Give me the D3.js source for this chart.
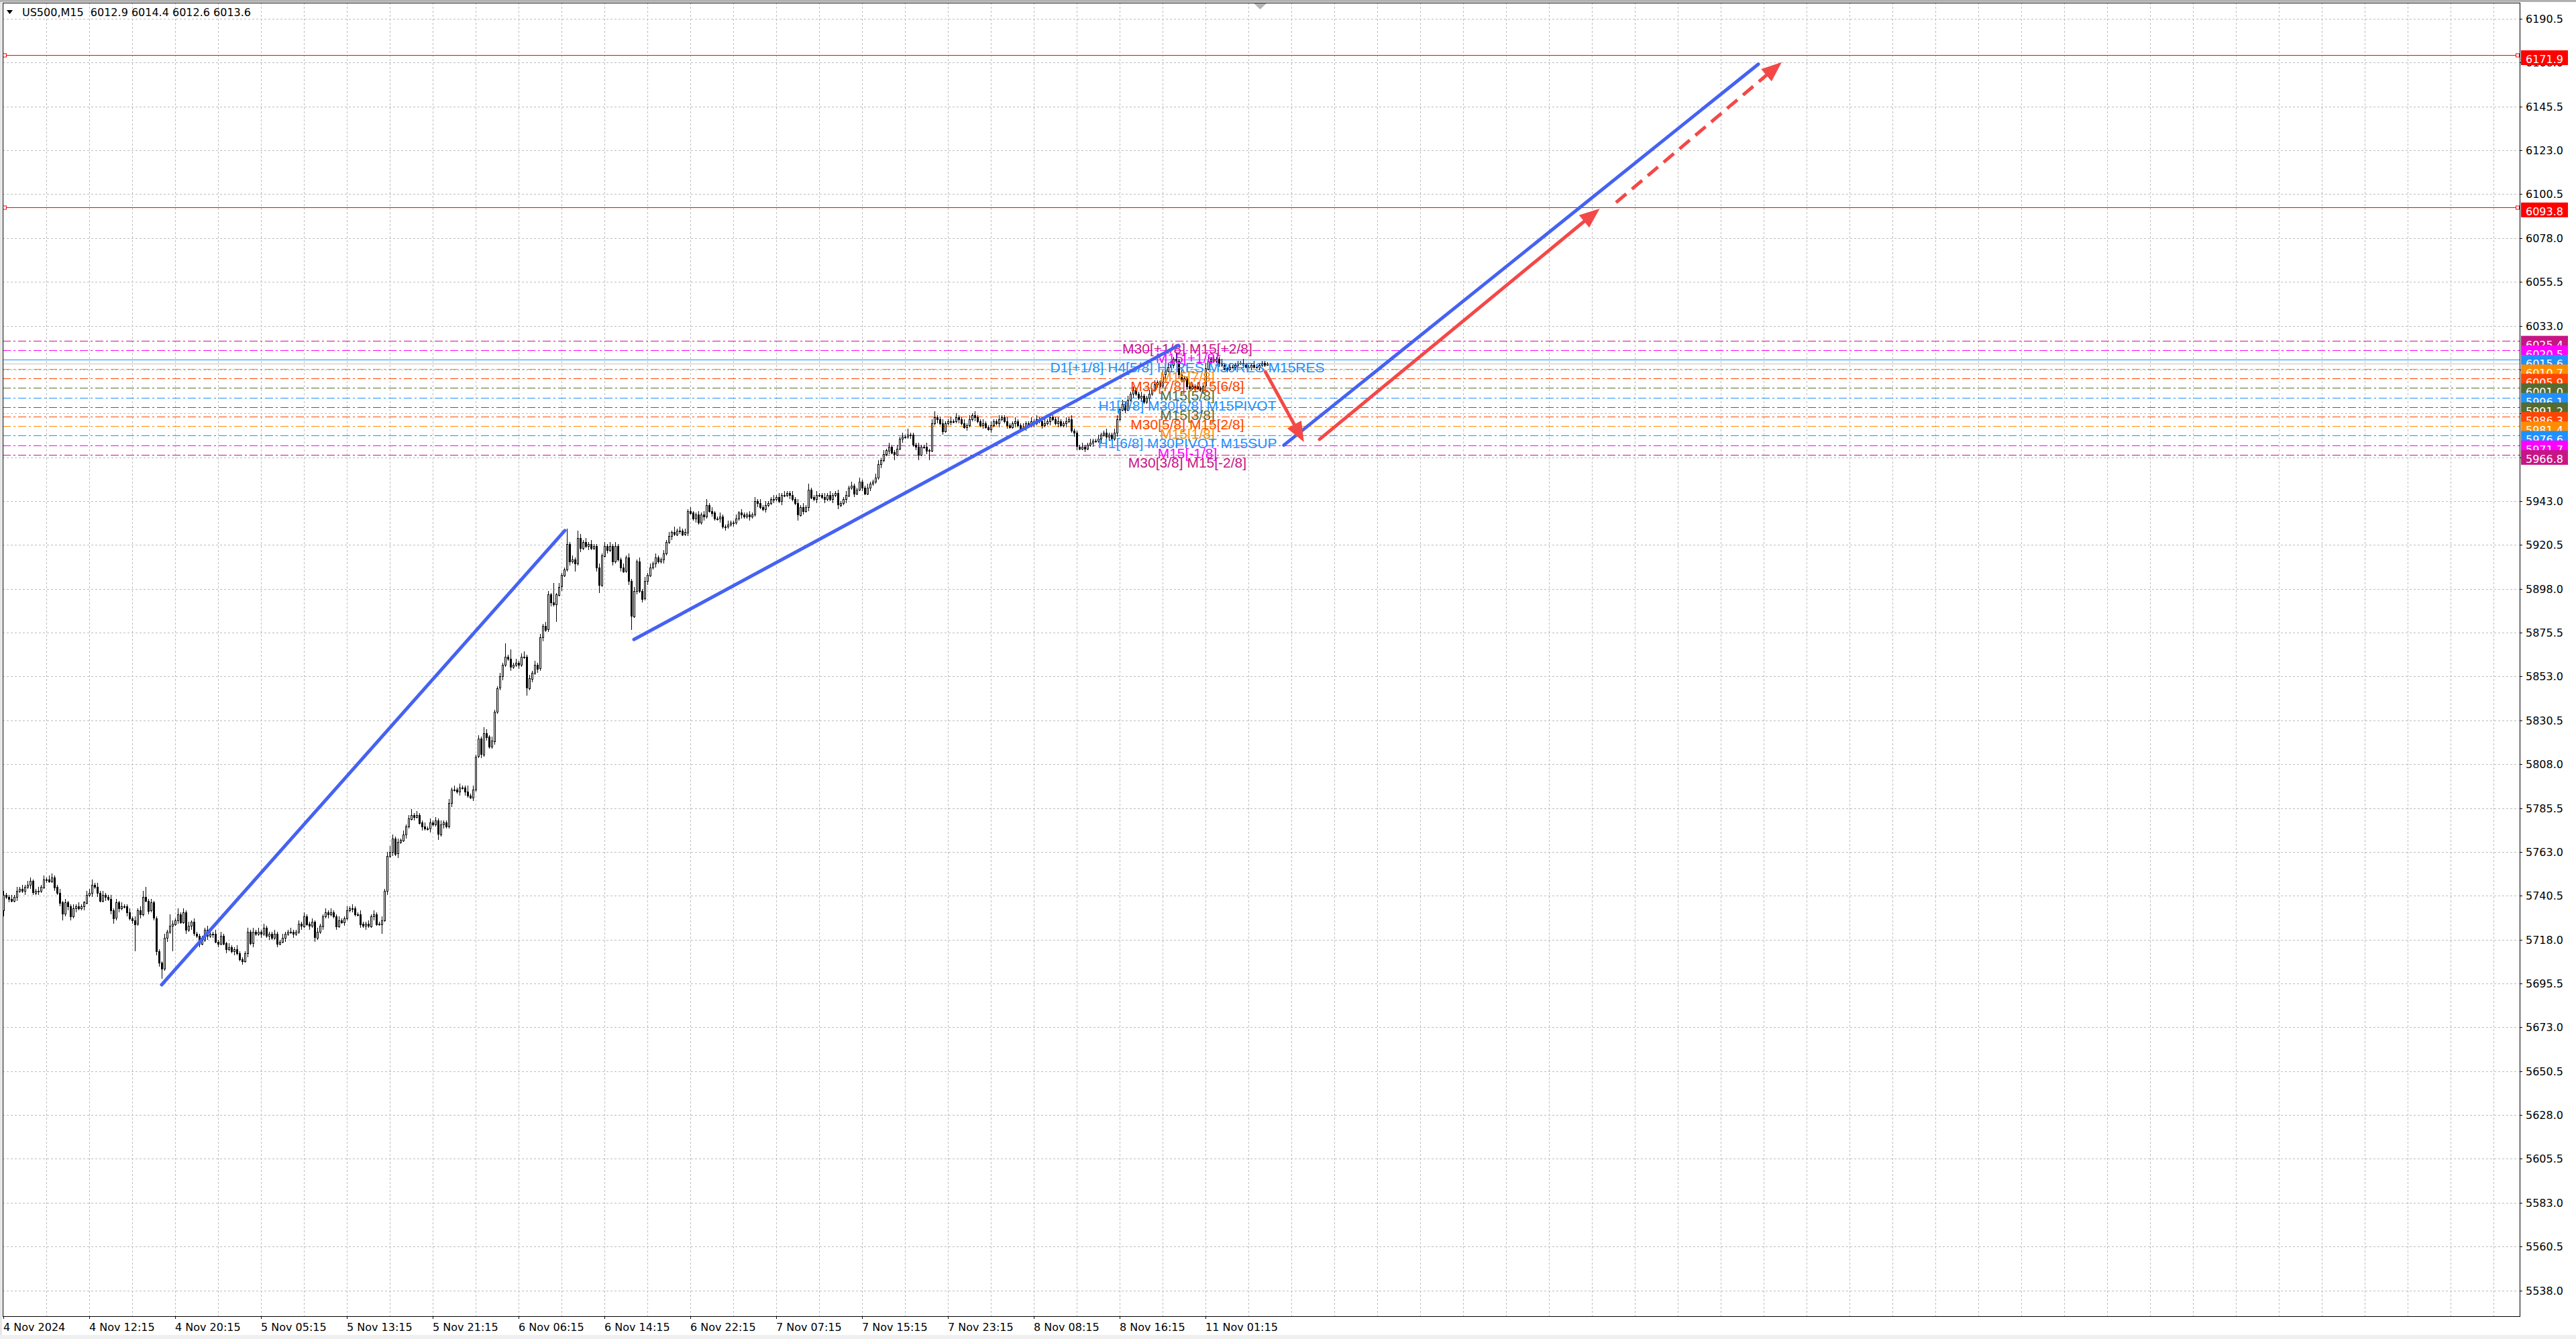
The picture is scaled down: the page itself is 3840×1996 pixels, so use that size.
<!DOCTYPE html>
<html>
<head>
<meta charset="utf-8">
<script src="https://cdn.jsdelivr.net/npm/d3@7"></script>
<style>
body{margin:0;background:#fff}
svg{display:block}
</style>
</head>
<body>
<div id="chart"></div>
<script>
//数据: US500 M15, 每根K线的收盘价
var symbolTitle = "US500,M15"
var lastOHLC = [6012.9, 6014.4, 6012.6, 6013.6]
var firstOpen = 5733
var closes = [
5741,5740,5739,5738,5740,5743,5744,5743,5745,5746,5748,5742,5743,5743,5745,5749,5749,5748,5750,5745,
5742,5737,5731,5737,5735,5730,5734,5735,5734,5735,5737,5741,5742,5746,5745,5742,5738,5741,5740,5739,
5733,5729,5737,5734,5735,5735,5732,5729,5728,5726,5733,5731,5740,5738,5733,5737,5729,5712,5706,5703,
5719,5722,5725,5726,5728,5731,5727,5732,5723,5725,5727,5721,5720,5716,5718,5723,5720,5721,5721,5717,
5716,5720,5716,5713,5714,5712,5713,5711,5708,5707,5711,5722,5716,5722,5721,5722,5721,5724,5720,5721,
5719,5721,5716,5717,5719,5721,5722,5722,5721,5722,5726,5725,5730,5726,5725,5727,5719,5722,5725,5730,
5732,5731,5732,5730,5725,5728,5727,5729,5733,5734,5734,5731,5731,5726,5725,5726,5725,5730,5731,5726,
5726,5728,5743,5761,5763,5770,5762,5768,5769,5772,5776,5780,5782,5781,5782,5778,5776,5775,5775,5778,
5777,5779,5772,5777,5778,5776,5788,5795,5795,5794,5796,5796,5794,5792,5791,5795,5812,5821,5813,5824,
5822,5817,5820,5835,5847,5853,5859,5863,5862,5858,5859,5860,5859,5863,5863,5847,5852,5855,5859,5857,
5873,5879,5877,5895,5891,5890,5895,5899,5905,5908,5921,5912,5913,5911,5924,5919,5922,5920,5921,5919,
5920,5909,5900,5915,5920,5918,5920,5912,5920,5913,5909,5907,5914,5902,5884,5897,5912,5897,5893,5902,
5905,5909,5911,5914,5912,5913,5916,5922,5925,5927,5926,5928,5928,5926,5927,5938,5937,5934,5936,5932,
5936,5935,5941,5938,5937,5934,5934,5935,5930,5930,5931,5932,5932,5934,5937,5936,5935,5936,5935,5936,
5943,5942,5940,5939,5941,5942,5944,5944,5945,5943,5946,5946,5947,5946,5944,5942,5936,5940,5938,5940,
5949,5945,5944,5946,5946,5945,5944,5946,5944,5946,5947,5941,5942,5944,5946,5950,5951,5947,5949,5953,
5950,5947,5950,5952,5953,5955,5962,5964,5967,5969,5971,5968,5967,5970,5975,5976,5976,5977,5977,5972,
5971,5967,5971,5971,5969,5969,5983,5986,5985,5983,5979,5983,5984,5984,5984,5986,5985,5983,5981,5982,
5985,5987,5986,5984,5982,5983,5981,5980,5982,5984,5983,5985,5986,5984,5982,5981,5983,5984,5982,5980,
5981,5983,5982,5984,5983,5985,5984,5982,5983,5984,5986,5985,5983,5984,5982,5983,5984,5985,5979,5978,
5971,5970,5971,5970,5972,5973,5974,5974,5975,5977,5978,5976,5977,5975,5978,5985,5990,5993,5990,5995,
5998,6000,5998,5996,5997,5994,5996,5998,6000,6003,6004,6002,6008,6010,6012,6013,6016,6015,6008,6005,
6006,6002,6001,6002,6002,6001,6000,6002,6011,6015,6016,6015,6016,6014,6013,6011,6011,6012,6012,6013,
6014,6014,6013,6012,6012,6013,6012,6012,6013,6014,6012.9,6013.6
]
//上影线长度
var wickUp = [
2,1,1,2,1,2,1,2,1,2,2,1,1,2,1,2,1,2,2,1,
1,2,1,2,1,1,2,1,2,1,1,2,2,3,1,2,1,2,1,1,
2,1,2,1,2,1,1,2,1,2,1,2,3,5,1,2,1,1,1,1,
2,1,6,2,1,3,1,2,1,2,1,2,1,1,2,1,2,1,1,2,
1,2,1,1,2,1,1,2,1,1,1,2,1,2,1,2,1,2,1,1,
1,2,1,1,2,1,1,2,1,1,2,1,2,1,1,2,1,2,1,1,
2,1,2,1,1,2,1,1,2,1,2,1,1,2,1,1,2,1,2,1,
1,2,1,2,3,2,1,2,1,2,1,2,3,1,2,1,1,2,1,2,
1,2,1,2,1,1,2,1,2,1,2,1,1,3,1,2,1,2,1,3,
2,1,2,1,1,2,1,7,1,5,1,2,1,2,3,1,2,1,2,1,
2,1,2,2,1,10,1,2,1,1,8,1,2,1,4,2,1,2,1,2,
1,1,2,1,2,1,2,1,2,1,1,2,1,2,1,2,1,2,1,2,
1,2,1,2,1,1,2,1,2,1,3,1,2,1,2,1,2,1,1,2,
1,2,3,1,2,1,1,2,1,1,2,1,1,2,1,2,1,1,2,1,
2,1,2,1,2,1,1,2,1,2,1,2,1,1,2,1,2,1,2,1,
3,1,1,2,1,1,2,1,2,1,1,2,1,1,2,1,2,1,1,2,
1,1,2,1,1,2,2,1,2,1,2,1,1,2,1,2,1,3,1,1,
1,2,1,1,2,1,2,3,1,1,2,1,1,2,1,2,1,1,2,1,
2,1,2,1,1,2,1,1,2,1,1,2,1,1,2,1,1,2,1,1,
2,1,1,2,1,2,1,1,2,1,2,1,1,2,1,1,2,1,2,1,
1,1,2,1,1,2,1,1,2,1,1,2,1,1,2,2,1,2,1,2,
1,2,1,1,2,1,1,2,1,2,1,1,2,1,2,2,1,3,1,2,
1,1,2,1,1,2,1,1,3,2,1,2,1,1,2,1,1,2,1,1,
1,1,2,1,1,1,2,1,1,1,1,0.8
]
//下影线长度
var wickDown = [
3,1,2,1,1,2,1,1,2,1,2,1,1,2,1,1,2,1,1,2,
1,2,3,1,2,2,1,2,1,1,2,1,1,2,1,2,1,1,2,1,
2,3,1,2,1,1,2,1,2,14,1,2,1,1,2,1,1,2,2,5,
1,2,1,13,1,2,1,1,2,1,2,1,1,2,1,1,2,1,2,1,
2,1,1,2,1,1,2,1,1,2,1,2,1,2,1,1,2,1,1,2,
1,1,2,1,1,2,1,1,2,1,1,2,1,1,2,1,2,1,1,2,
1,2,1,1,2,1,1,2,1,1,2,1,1,2,1,2,1,1,2,1,
1,5,1,2,1,2,1,2,1,1,2,1,1,2,1,1,2,1,1,2,
1,1,3,1,2,1,1,2,1,1,2,1,2,1,1,2,1,1,2,1,
2,1,1,2,1,1,2,1,1,2,1,1,2,1,1,4,1,2,1,2,
1,2,1,1,2,1,9,1,2,1,1,2,1,4,1,2,1,1,2,1,
1,2,4,1,1,2,1,2,1,1,2,1,1,2,7,1,2,1,2,1,
2,1,1,2,1,1,2,1,1,2,1,1,2,1,1,2,1,1,2,1,
1,2,1,1,2,1,1,2,1,2,1,1,2,1,1,2,1,1,2,1,
1,2,1,1,2,1,1,2,1,1,2,1,1,2,1,1,3,1,2,1,
2,1,1,2,1,1,2,1,1,2,1,2,1,1,2,1,1,2,1,1,
2,1,1,2,1,1,1,2,1,1,2,1,3,1,1,2,1,1,2,1,
2,3,1,1,2,5,1,1,2,1,2,1,1,2,1,1,2,1,1,2,
1,1,2,1,1,2,1,1,2,1,1,2,1,1,2,1,1,2,1,1,
1,2,1,1,2,1,1,2,1,1,2,1,1,2,1,1,2,1,1,2,
2,1,1,2,1,1,2,1,1,2,1,1,2,1,1,2,1,1,2,1,
1,2,1,1,2,1,1,2,1,1,2,1,1,2,1,1,2,1,2,1,
1,2,1,1,2,1,1,2,1,1,2,1,1,2,1,1,2,1,1,2,
1,1,2,1,1,2,1,1,2,1,1,0.3
]

//时间轴标签, 每32根K线一个
var timeLabels = ["4 Nov 2024","4 Nov 12:15","4 Nov 20:15","5 Nov 05:15","5 Nov 13:15","5 Nov 21:15",
    "6 Nov 06:15","6 Nov 14:15","6 Nov 22:15","7 Nov 07:15","7 Nov 15:15","7 Nov 23:15",
    "8 Nov 08:15","8 Nov 16:15","11 Nov 01:15"]
var timeStep = 32
var gridStep = 16

//价格轴刻度
var priceTicks = [6190.5,6168.0,6145.5,6123.0,6100.5,6078.0,6055.5,6033.0,6010.5,5988.0,5965.5,
    5943.0,5920.5,5898.0,5875.5,5853.0,5830.5,5808.0,5785.5,5763.0,5740.5,5718.0,5695.5,
    5673.0,5650.5,5628.0,5605.5,5583.0,5560.5,5538.0]

//Murrey 水平线
var levelPrices = [6025.4,6020.5,6015.6,6010.7,6005.9,6001.0,5996.1,5991.2,5986.3,5981.4,5976.6,5971.7,5966.8]
var levelTexts = ["M30[+1/8] M15[+2/8]","M15[+1/8]","D1[+1/8] H4[5/8] H1RES M30RES M15RES","M15[7/8]",
    "M30[7/8] M15[6/8]","M15[5/8]","H1[7/8] M30[6/8] M15PIVOT","M15[3/8]","M30[5/8] M15[2/8]",
    "M15[1/8]","H1[6/8] M30PIVOT M15SUP","M15[-1/8]","M30[3/8] M15[-2/8]"]
var levelTextBar = 441.25
var levelColors = ["#c71585","#ff00ff","#1e90ff","#ff8c00","#ff4500","#556b2f","#1e90ff",
    "#556b2f","#ff4500","#ff8c00","#1e90ff","#ff00ff","#c71585"]
var levelSolid = [false,false,true,false,false,false,false,false,false,false,false,false,false]

//红色水平线
var redLevels = [6171.9, 6093.8]

//趋势线 [bar1, price1, bar2, price2]
var blueLines = [
    [59, 5694.8, 209.25, 5927.9],
    [235, 5872.0, 437.9, 6022.9],
    [477.2, 5971.7, 654, 6167.2]
]
//箭头 [bar1, price1, bar2, price2]
var redArrows = [
    [470.3, 6009.4, 484.7, 5973.3],
    [490.5, 5974.7, 594.9, 6093.1]
]
var redDashArrows = [
    [601, 6096.2, 662.75, 6168.2]
]

//设置svg
var width = 3840
var height = 1996
var pLeft = 4, pTop = 4, pRight = 3756, pBottom = 1962

var svg = d3.select("#chart").append("svg")
    .attr("width", width)
    .attr("height", height)
    .style("font-family", "'DejaVu Sans', sans-serif")

var scaleX = d3.scaleLinear()//K线序号 -> 横坐标
    .domain([0, 100])
    .range([5, 405])
var scaleY = d3.scaleLinear()//价格 -> 纵坐标
    .domain([5538.0, 6190.5])
    .range([1923.5, 28])

//窗口边框
svg.append("rect").attr("x",0).attr("y",0).attr("width",width).attr("height",3).attr("fill","#b0b0b0")
svg.append("rect").attr("x",0).attr("y",3).attr("width",3).attr("height",height).attr("fill","#e6e6e6")
svg.append("rect").attr("x",0).attr("y",1990).attr("width",width).attr("height",6).attr("fill","#f0f0f0")

svg.append("defs").append("clipPath").attr("id","plot")
    .append("rect").attr("x",pLeft).attr("y",pTop).attr("width",pRight-pLeft).attr("height",pBottom-pTop)

var plot = svg.append("g").attr("clip-path","url(#plot)")

//网格
var grid = plot.append("g").attr("shape-rendering","crispEdges")
var gx = []
for (var k = 1; scaleX(k*gridStep) < pRight; k++) gx.push(k*gridStep)
grid.selectAll("line.v").data(gx).enter().append("line")
    .attr("x1", d => Math.round(scaleX(d))+0.5).attr("x2", d => Math.round(scaleX(d))+0.5)
    .attr("y1", pTop).attr("y2", pBottom)
    .attr("stroke","#bdbdbd").attr("stroke-dasharray","3,3")
grid.selectAll("line.h").data(priceTicks).enter().append("line")
    .attr("x1", pLeft).attr("x2", pRight)
    .attr("y1", d => Math.round(scaleY(d))+0.5).attr("y2", d => Math.round(scaleY(d))+0.5)
    .attr("stroke","#bdbdbd").attr("stroke-dasharray","3,3")

//水平线
plot.append("g").attr("shape-rendering","crispEdges")
    .selectAll("line").data(levelPrices).enter().append("line")
    .attr("x1", pLeft).attr("x2", pRight)
    .attr("y1", d => Math.round(scaleY(d))+0.5).attr("y2", d => Math.round(scaleY(d))+0.5)
    .attr("stroke", (d,i) => levelColors[i])
    .attr("stroke-dasharray", (d,i) => levelSolid[i] ? null : "12,4,3,4")

//当前价
plot.append("line")
    .attr("x1", pLeft).attr("x2", pRight)
    .attr("y1", Math.round(scaleY(lastOHLC[3]))+0.5).attr("y2", Math.round(scaleY(lastOHLC[3]))+0.5)
    .attr("stroke","#c0c0c0").attr("shape-rendering","crispEdges")

plot.selectAll("line.red").data(redLevels).enter().append("line")
    .attr("x1", pLeft).attr("x2", pRight)
    .attr("y1", d => Math.round(scaleY(d))+0.5).attr("y2", d => Math.round(scaleY(d))+0.5)
    .attr("stroke","#ff0000").attr("stroke-width",1).attr("shape-rendering","crispEdges")

//K线
var bars = closes.map(function(c, i){
    var o = i == 0 ? firstOpen : closes[i-1]
    return {i:i, o:o, c:c, h:Math.max(o,c)+wickUp[i], l:Math.min(o,c)-wickDown[i]}
})
var candles = plot.append("g").attr("shape-rendering","crispEdges")
    .selectAll("g").data(bars).enter().append("g")
candles.append("line")
    .attr("x1", d => Math.round(scaleX(d.i))+0.5).attr("x2", d => Math.round(scaleX(d.i))+0.5)
    .attr("y1", d => scaleY(d.h)).attr("y2", d => scaleY(d.l))
    .attr("stroke","#000")
candles.append("rect")
    .attr("x", d => Math.round(scaleX(d.i))-0.5)
    .attr("width", 2)
    .attr("y", d => Math.round(scaleY(Math.max(d.o,d.c)))+0.5)
    .attr("height", d => Math.max(1, Math.round(Math.abs(scaleY(d.o)-scaleY(d.c)))))
    .attr("fill", d => d.c >= d.o ? "#fff" : "#000")
    .attr("stroke","#000")

//水平线文字
plot.append("g")
    .selectAll("text").data(levelPrices).enter().append("text")
    .attr("x", scaleX(levelTextBar))
    .attr("y", d => scaleY(d)+19)
    .attr("text-anchor","middle")
    .style("font-family","'Liberation Sans', Arial, sans-serif")
    .style("font-size","21px")
    .attr("fill", (d,i) => levelColors[i])
    .text((d,i) => levelTexts[i])

//趋势线
plot.append("g").selectAll("line").data(blueLines).enter().append("line")
    .attr("x1", d => scaleX(d[0])).attr("y1", d => scaleY(d[1]))
    .attr("x2", d => scaleX(d[2])).attr("y2", d => scaleY(d[3]))
    .attr("stroke","#4562f2").attr("stroke-width",5).attr("stroke-linecap","round")

//箭头
function drawArrow(d, dashed){
    var x1 = scaleX(d[0]), y1 = scaleY(d[1]), x2 = scaleX(d[2]), y2 = scaleY(d[3])
    var len = Math.sqrt((x2-x1)*(x2-x1)+(y2-y1)*(y2-y1))
    var ux = (x2-x1)/len, uy = (y2-y1)/len
    var head = 30, half = 12
    plot.append("line")
        .attr("x1", x1).attr("y1", y1)
        .attr("x2", x2-ux*head*0.8).attr("y2", y2-uy*head*0.8)
        .attr("stroke","#f44848").attr("stroke-width",5)
        .attr("stroke-linecap", dashed ? "butt" : "round")
        .attr("stroke-dasharray", dashed ? "20,11" : null)
    var bx = x2-ux*head, by = y2-uy*head
    plot.append("path")
        .attr("d", "M"+x2+" "+y2+" L"+(bx-uy*half)+" "+(by+ux*half)+" L"+(bx+uy*half)+" "+(by-ux*half)+" Z")
        .attr("fill","#f44848")
}
redArrows.forEach(d => drawArrow(d, false))
redDashArrows.forEach(d => drawArrow(d, true))

//红线端点小方块
redLevels.forEach(function(p){
    [pLeft+3, pRight-3].forEach(function(px){
        svg.append("rect").attr("x", px-2.5).attr("y", Math.round(scaleY(p))-2)
            .attr("width",5).attr("height",5)
            .attr("fill","#fff").attr("stroke","#ff0000").attr("stroke-width",1)
    })
})

//图表移动标记
svg.append("path").attr("d","M1869 5 L1888 5 L1878.5 14 Z").attr("fill","#b4b4b4")

//边框
svg.append("rect").attr("x",pLeft+0.5).attr("y",pTop+0.5)
    .attr("width",pRight-pLeft).attr("height",pBottom-pTop)
    .attr("fill","none").attr("stroke","#000").attr("shape-rendering","crispEdges")

//价格轴
var yAxis = svg.append("g").style("font-size","16px")
yAxis.selectAll("line").data(priceTicks).enter().append("line")
    .attr("x1", pRight).attr("x2", pRight+4)
    .attr("y1", d => Math.round(scaleY(d))+0.5).attr("y2", d => Math.round(scaleY(d))+0.5)
    .attr("stroke","#000").attr("shape-rendering","crispEdges")
yAxis.selectAll("text").data(priceTicks).enter().append("text")
    .attr("x", pRight+9).attr("y", d => scaleY(d)+6)
    .attr("fill","#000")
    .text(d => d.toFixed(1))

//价格标签
var tags = svg.append("g").style("font-size","16px")
levelPrices.forEach(function(p, i){
    tags.append("rect").attr("x", pRight+2).attr("y", scaleY(p)-7)
        .attr("width",70).attr("height",22).attr("fill", levelColors[i])
    tags.append("text").attr("x", pRight+9).attr("y", scaleY(p)+12)
        .attr("fill","#fff").text(p.toFixed(1))
})
redLevels.forEach(function(p){
    tags.append("rect").attr("x", pRight+2).attr("y", scaleY(p)-7)
        .attr("width",70).attr("height",22).attr("fill","#ff0000")
    tags.append("text").attr("x", pRight+9).attr("y", scaleY(p)+12)
        .attr("fill","#fff").text(p.toFixed(1))
})

//时间轴
var xAxis = svg.append("g").style("font-size","16px")
xAxis.selectAll("line").data(timeLabels).enter().append("line")
    .attr("x1", (d,i) => Math.round(scaleX(i*timeStep))+0.5).attr("x2", (d,i) => Math.round(scaleX(i*timeStep))+0.5)
    .attr("y1", pBottom).attr("y2", pBottom+4)
    .attr("stroke","#000").attr("shape-rendering","crispEdges")
xAxis.selectAll("text").data(timeLabels).enter().append("text")
    .attr("x", (d,i) => scaleX(i*timeStep))
    .attr("y", 1984)
    .attr("fill","#000")
    .text(d => d)

//标题
svg.append("path").attr("d","M10 15 L19 15 L14.5 21 Z").attr("fill","#000")
svg.append("text").attr("x",33).attr("y",24)
    .style("font-size","16px").attr("fill","#000")
    .attr("xml:space","preserve")
    .text(symbolTitle+"  "+lastOHLC.map(d => d.toFixed(1)).join(" "))
</script>
</body>
</html>
